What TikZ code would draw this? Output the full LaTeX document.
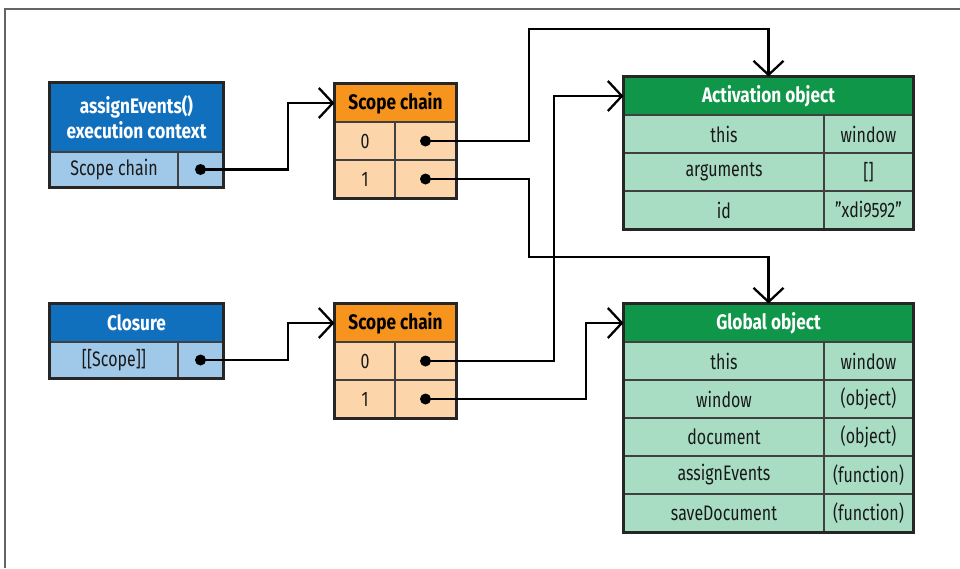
\documentclass[tikz,border=0pt]{standalone}
\usepackage{fontspec}
\setmainfont[FakeStretch=0.76,BoldFeatures={FakeStretch=0.82}]{Fira Sans}
\usetikzlibrary{arrows.meta,backgrounds}
\definecolor{bluehdr}{RGB}{17,112,190}
\definecolor{bluerow}{RGB}{160,200,232}
\definecolor{orghdr}{RGB}{247,148,29}
\definecolor{orgrow}{RGB}{252,214,170}
\definecolor{grnhdr}{RGB}{16,150,72}
\definecolor{grnrow}{RGB}{168,221,196}
\definecolor{framec}{RGB}{100,100,100}
\tikzset{
  cell/.style={draw=black!75, line width=1.1pt, inner sep=0pt, font=\fontsize{21}{25}\selectfont, text=black!90},
  hdr/.style={cell, font=\fontsize{21}{25}\selectfont\bfseries, align=center},
  bhdr/.style={hdr, fill=bluehdr, text=white},
  ohdr/.style={hdr, fill=orghdr, text=black},
  ghdr/.style={hdr, fill=grnhdr, text=white},
  bcell/.style={cell, fill=bluerow},
  ocell/.style={cell, fill=orgrow},
  gcell/.style={cell, fill=grnrow},
  boxline/.style={draw=black!85, line width=2.2pt},
  shadowfill/.style={fill=black, opacity=0.18},
  dot/.style={circle, fill=black, inner sep=0pt, minimum size=11pt},
  conn/.style={draw=black, line width=2.3pt},
  arr/.style={conn, -{Straight Barb[length=14pt,width=30pt,line width=2.3pt]}},
}
\begin{document}
\begin{tikzpicture}[x=1pt,y=-1pt]
\useasboundingbox (0,0) rectangle (960,568);
\fill[white] (0,0) rectangle (960,568);
\draw[framec, line width=2pt] (5,568) -- (5,9) -- (960,9);

% ---- blue box 1
\node[bhdr, minimum width=173, minimum height=69] (b1h) at (136.5,117.5) {assignEvents()\\execution context};
\node[bcell, minimum width=128, minimum height=35] (b1l) at (114,169.5) {Scope chain};
\node[bcell, minimum width=45, minimum height=35] (b1r) at (200.5,169.5) {};
\draw[boxline] (b1h.north west) rectangle (b1r.south east);
\node[dot] (b1d) at (b1r.center) {};

% ---- blue box 2
\node[bhdr, minimum width=173, minimum height=38] (b2h) at (136.5,323) {Closure};
\node[bcell, minimum width=128, minimum height=36] (b2l) at (114,360) {[[Scope]]};
\node[bcell, minimum width=45, minimum height=36] (b2r) at (200.5,360) {};
\draw[boxline] (b2h.north west) rectangle (b2r.south east);
\node[dot] (b2d) at (b2r.center) {};

% ---- orange box 1
\node[ohdr, minimum width=121, minimum height=38] (o1h) at (395.5,103) {Scope chain};
\node[ocell, minimum width=60, minimum height=38] (o1a) at (365,141) {0};
\node[ocell, minimum width=61, minimum height=38] (o1b) at (425.5,141) {};
\node[ocell, minimum width=60, minimum height=38] (o1c) at (365,179) {1};
\node[ocell, minimum width=61, minimum height=38] (o1e) at (425.5,179) {};
\draw[boxline] (o1h.north west) rectangle (o1e.south east);
\node[dot] (o1d0) at (o1b.center) {};
\node[dot] (o1d1) at (o1e.center) {};

% ---- orange box 2
\node[ohdr, minimum width=121, minimum height=38] (o2h) at (395.5,323) {Scope chain};
\node[ocell, minimum width=60, minimum height=38] (o2a) at (365,361) {0};
\node[ocell, minimum width=61, minimum height=38] (o2b) at (425.5,361) {};
\node[ocell, minimum width=60, minimum height=38] (o2c) at (365,399) {1};
\node[ocell, minimum width=61, minimum height=38] (o2e) at (425.5,399) {};
\draw[boxline] (o2h.north west) rectangle (o2e.south east);
\node[dot] (o2d0) at (o2b.center) {};
\node[dot] (o2d1) at (o2e.center) {};

% ---- green box 1 (activation object)
\node[ghdr, minimum width=289, minimum height=38] (g1h) at (768.5,96) {Activation object};
\node[gcell, minimum width=200, minimum height=38] (g1a1) at (724,134) {this};
\node[gcell, minimum width=89, minimum height=38] (g1b1) at (868.5,134) {window};
\node[gcell, minimum width=200, minimum height=38] (g1a2) at (724,172) {arguments};
\node[gcell, minimum width=89, minimum height=38] (g1b2) at (868.5,172) {[]};
\node[gcell, minimum width=200, minimum height=38] (g1a3) at (724,210) {id};
\node[gcell, minimum width=89, minimum height=38] (g1b3) at (868.5,210) {”xdi9592”};
\draw[boxline] (g1h.north west) rectangle (g1b3.south east);

% ---- green box 2 (global object)
\node[ghdr, minimum width=289, minimum height=38] (g2h) at (768.5,323) {Global object};
\node[gcell, minimum width=200, minimum height=38] (g2a1) at (724,361) {this};
\node[gcell, minimum width=89, minimum height=38] (g2b1) at (868.5,361) {window};
\node[gcell, minimum width=200, minimum height=38] (g2a2) at (724,399) {window};
\node[gcell, minimum width=89, minimum height=38] (g2b2) at (868.5,399) {(object)};
\node[gcell, minimum width=200, minimum height=38] (g2a3) at (724,437) {document};
\node[gcell, minimum width=89, minimum height=38] (g2b3) at (868.5,437) {(object)};
\node[gcell, minimum width=200, minimum height=38] (g2a4) at (724,475) {assignEvents};
\node[gcell, minimum width=89, minimum height=38] (g2b4) at (868.5,475) {(function)};
\node[gcell, minimum width=200, minimum height=38] (g2a5) at (724,513) {saveDocument};
\node[gcell, minimum width=89, minimum height=38] (g2b5) at (868.5,513) {(function)};
\draw[boxline] (g2h.north west) rectangle (g2b5.south east);

% ---- shadows
\begin{scope}[on background layer]
\fill[shadowfill] ([shift={(3,4)}]b1h.north west) rectangle ([shift={(3,4)}]b1r.south east);
\fill[shadowfill] ([shift={(3,4)}]b2h.north west) rectangle ([shift={(3,4)}]b2r.south east);
\fill[shadowfill] ([shift={(3,4)}]o1h.north west) rectangle ([shift={(3,4)}]o1e.south east);
\fill[shadowfill] ([shift={(3,4)}]o2h.north west) rectangle ([shift={(3,4)}]o2e.south east);
\fill[shadowfill] ([shift={(3,4)}]g1h.north west) rectangle ([shift={(3,4)}]g1b3.south east);
\fill[shadowfill] ([shift={(3,4)}]g2h.north west) rectangle ([shift={(3,4)}]g2b5.south east);
\end{scope}

% ---- routing coordinates
\coordinate (k1) at (288,0);
\coordinate (k2) at (529,29);
\coordinate (k3) at (529,257);
\coordinate (k4) at (554,0);
\coordinate (k5) at (586,0);

% ---- connectors
\draw[arr] (b1d.center) -- (b1d.center -| k1) |- (o1h.west);
\draw[arr] (b2d.center) -- (b2d.center -| k1) |- (o2h.west);
\draw[arr] (o1d0.center) -| (k2) -| (g1h.north);
\draw[arr] (o1d1.center) -| (k3) -| (g2h.north);
\draw[arr] (o2d0.center) -- (o2d0.center -| k4) |- (g1h.west);
\draw[arr] (o2d1.center) -- (o2d1.center -| k5) |- (g2h.west);
\end{tikzpicture}
\end{document}
